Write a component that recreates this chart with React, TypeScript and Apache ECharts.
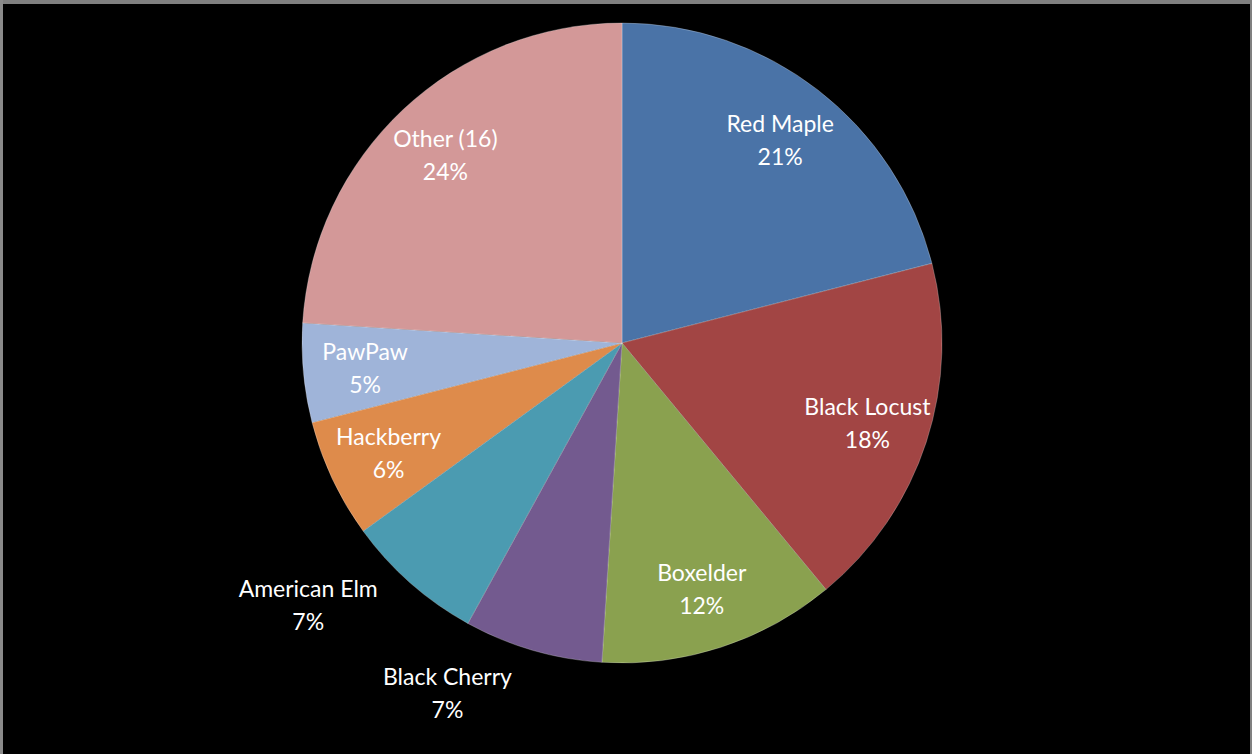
import React, { useEffect, useRef } from "react";
import * as echarts from "echarts";

const categories = ["Red Maple", "Black Locust", "Boxelder", "Black Cherry", "American Elm", "Hackberry", "PawPaw", "Other (16)"];
const values = [21, 18, 12, 7, 7, 6, 5, 24];
const colors = ["#4a73a7", "#a24544", "#8aa14f", "#735a8f", "#4b9bb1", "#de8b4b", "#9fb4d9", "#d39898"];
// labels drawn outside the slice (best-fit in the original)
const outsideLabels: Record<string, { len: number; len2: number; w: number }> = {
  "Black Cherry": { len: 44, len2: 0, w: 136 },
  "American Elm": { len: 29, len2: 3, w: 150 },
};

export default function App() {
  const ref = useRef<HTMLDivElement>(null);
  useEffect(() => {
    document.body.style.margin = "0";
    const chart = echarts.init(ref.current!, null, { renderer: "svg" });
    const center = [622, 343];
    const R = 320;
    const fmt = (p: any) => `${p.name}\n${Math.round(p.percent)}%`;
    const labelData = categories.map((name, i) => {
      const o = outsideLabels[name];
      if (!o) return { name, value: values[i] };
      return {
        name,
        value: values[i],
        label: {
          position: "outside",
          formatter: (p: any) => `{w|${p.name}}\n{w|${Math.round(p.percent)}%}`,
          rich: { w: { width: o.w, align: "center", color: "#ffffff", fontSize: 23, fontFamily: "Lato", lineHeight: 33 } },
        },
        labelLine: { show: false, length: o.len, length2: o.len2 },
      };
    });
    chart.setOption({
      animation: false,
      backgroundColor: "#000000",
      graphic: [
        { type: "rect", left: 0, top: 0, shape: { width: 1252, height: 4 }, style: { fill: "#808080" } },
        { type: "rect", left: 0, top: 0, shape: { width: 3, height: 754 }, style: { fill: "#8a8a8a" } },
        { type: "rect", right: 0, top: 0, shape: { width: 2, height: 754 }, style: { fill: "#808080" } },
      ],
      series: [
        {
          type: "pie",
          center,
          radius: R,
          startAngle: 90,
          clockwise: true,
          silent: true,
          label: { show: false },
          labelLine: { show: false },
          itemStyle: { borderColor: "rgba(255,255,255,0.25)", borderWidth: 1 },
          data: categories.map((name, i) => ({ name, value: values[i], itemStyle: { color: colors[i] } })),
        },
        {
          type: "pie",
          center,
          radius: [190, R],
          startAngle: 90,
          clockwise: true,
          silent: true,
          avoidLabelOverlap: false,
          itemStyle: { color: "rgba(0,0,0,0)", borderWidth: 0 },
          label: {
            show: true,
            position: "inside",
            formatter: fmt,
            color: "#ffffff",
            fontSize: 23,
            fontFamily: "Lato",
            lineHeight: 33,
          },
          labelLine: { show: false },
          data: labelData,
        },
      ],
    });
    return () => chart.dispose();
  }, []);
  return <div ref={ref} style={{ width: 1252, height: 754 }} />;
}
